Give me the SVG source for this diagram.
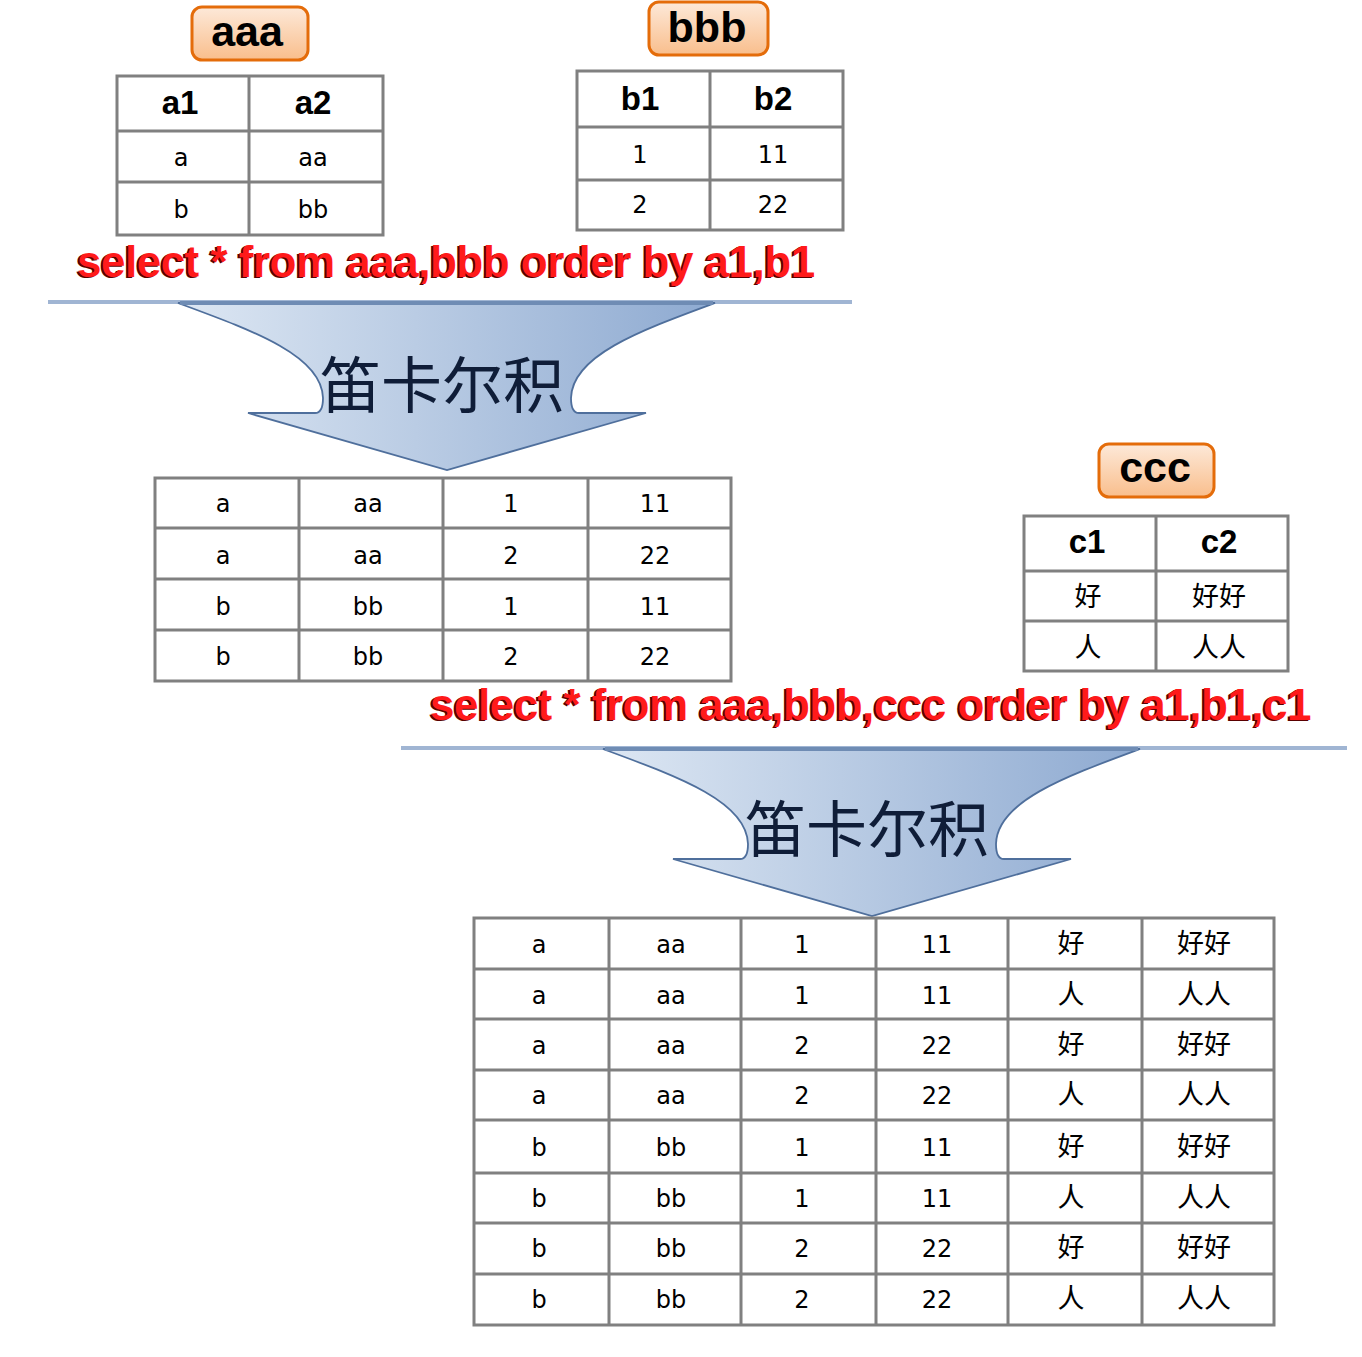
<svg xmlns="http://www.w3.org/2000/svg" width="1362" height="1357" viewBox="0 0 1362 1357">
  <defs>
    <linearGradient id="lblGrad" x1="0" y1="0" x2="0" y2="1">
      <stop offset="0" stop-color="#fde9d9"/>
      <stop offset="1" stop-color="#f9be8c"/>
    </linearGradient>
    <linearGradient id="arrGrad" x1="0" y1="0" x2="1" y2="0">
      <stop offset="0" stop-color="#dde7f3"/>
      <stop offset="1" stop-color="#8eaad1"/>
    </linearGradient>
    <path id="arrowShape" d="M178,303 L715,303 C642,330 572,355 571,398 Q571,413 579,413 L646,413 L447,470 L248,413 L315,413 Q323,413 323,398 C322,355 251,330 178,303 Z"/>
  </defs>
  <style>
    .lbl rect { fill: url(#lblGrad); stroke: #e46c0a; stroke-width: 3; }
    .lbl text { font-family: "Liberation Sans", Arial, sans-serif; font-weight: bold; font-size: 43px; fill: #000; text-anchor: middle; }
    .grid { fill: none; stroke: #808080; stroke-width: 3; }
    .hd { font-family: "Liberation Sans", Arial, sans-serif; font-weight: bold; font-size: 33px; fill: #000; text-anchor: middle; }
    .cell { font-family: "DejaVu Sans", "Noto Sans CJK SC", sans-serif; font-size: 24px; fill: #000; text-anchor: middle; }
    .cjk { font-family: "Noto Sans CJK SC", sans-serif; font-size: 27px; }
    .sql { font-family: "Liberation Sans", Arial, sans-serif; font-weight: bold; font-size: 44px; letter-spacing: -0.5px; }
    .sqlShadow { fill: #5a0000; }
    .sqlText { fill: #ff1a1a; }
    .arrow { fill: url(#arrGrad); stroke: #4f6f9c; stroke-width: 1.8; }
    .arrTxt { font-family: "Noto Sans CJK SC", sans-serif; font-size: 61px; fill: #0f1d38; text-anchor: middle; }
    .baseLine { stroke: #a0b5d3; stroke-width: 4; }
    .topLine { stroke: #6f8cb4; stroke-width: 4; }
  </style>
  <rect width="1362" height="1357" fill="#ffffff"/>

  <!-- connectors (cartesian-product arrows) -->
  <g id="connectors">
    <g id="arrow1">
      <line class="baseLine" x1="48" y1="302" x2="852" y2="302"/>
      <use href="#arrowShape" class="arrow"/>
      <line class="topLine" x1="180" y1="303" x2="713" y2="303"/>
      <text class="arrTxt" x="442" y="408">笛卡尔积</text>
    </g>
    <g id="arrow2" transform="translate(425,446)">
      <line class="baseLine" x1="-24" y1="302" x2="922" y2="302"/>
      <use href="#arrowShape" class="arrow"/>
      <line class="topLine" x1="180" y1="303" x2="713" y2="303"/>
      <text class="arrTxt" x="442" y="406">笛卡尔积</text>
    </g>
  </g>

  <!-- SQL captions -->
  <g id="sql1" class="sql">
    <text class="sqlShadow" x="75" y="278">select * from aaa,bbb order by a1,b1</text>
    <text class="sqlText" x="77" y="277">select * from aaa,bbb order by a1,b1</text>
  </g>
  <g id="sql2" class="sql">
    <text class="sqlShadow" x="428" y="721">select * from aaa,bbb,ccc order by a1,b1,c1</text>
    <text class="sqlText" x="430" y="720">select * from aaa,bbb,ccc order by a1,b1,c1</text>
  </g>

  <!-- table labels -->
  <g id="label-aaa" class="lbl">
    <rect x="192" y="7" width="116" height="53" rx="10"/>
    <text x="247" y="46">aaa</text>
  </g>
  <g id="label-bbb" class="lbl">
    <rect x="649" y="2" width="119" height="53" rx="10"/>
    <text x="707" y="42">bbb</text>
  </g>
  <g id="label-ccc" class="lbl">
    <rect x="1099" y="444" width="115" height="53" rx="10"/>
    <text x="1155" y="482">ccc</text>
  </g>

  <!-- table aaa -->
  <g id="table-aaa">
    <path class="grid" d="M117,76 H383 V235 H117 Z M249,76 V235 M117,131 H383 M117,182 H383"/>
    <text class="hd" x="180" y="114">a1</text>
    <text class="hd" x="313" y="114">a2</text>
    <text class="cell" x="181" y="166">a</text>
    <text class="cell" x="313" y="166">aa</text>
    <text class="cell" x="181" y="218">b</text>
    <text class="cell" x="313" y="218">bb</text>
  </g>

  <!-- table bbb -->
  <g id="table-bbb">
    <path class="grid" d="M577,71 H843 V230 H577 Z M710,71 V230 M577,127 H843 M577,180 H843"/>
    <text class="hd" x="640" y="110">b1</text>
    <text class="hd" x="773" y="110">b2</text>
    <text class="cell" x="640" y="163">1</text>
    <text class="cell" x="773" y="163">11</text>
    <text class="cell" x="640" y="213">2</text>
    <text class="cell" x="773" y="213">22</text>
  </g>

  <!-- table ccc -->
  <g id="table-ccc">
    <path class="grid" d="M1024,516 H1288 V671 H1024 Z M1156,516 V671 M1024,571 H1288 M1024,621 H1288"/>
    <text class="hd" x="1087" y="553">c1</text>
    <text class="hd" x="1219" y="553">c2</text>
    <text class="cell cjk" x="1088" y="606">好</text>
    <text class="cell cjk" x="1219" y="606">好好</text>
    <text class="cell cjk" x="1088" y="657">人</text>
    <text class="cell cjk" x="1219" y="657">人人</text>
  </g>

  <!-- result table aaa x bbb -->
  <g id="table-ab">
    <path class="grid" d="M155,478 H731 V681 H155 Z M299,478 V681 M443,478 V681 M588,478 V681 M155,528 H731 M155,579 H731 M155,630 H731"/>
    <g>
      <text class="cell" x="223" y="512">a</text><text class="cell" x="368" y="512">aa</text><text class="cell" x="511" y="512">1</text><text class="cell" x="655" y="512">11</text>
      <text class="cell" x="223" y="564">a</text><text class="cell" x="368" y="564">aa</text><text class="cell" x="511" y="564">2</text><text class="cell" x="655" y="564">22</text>
      <text class="cell" x="223" y="615">b</text><text class="cell" x="368" y="615">bb</text><text class="cell" x="511" y="615">1</text><text class="cell" x="655" y="615">11</text>
      <text class="cell" x="223" y="665">b</text><text class="cell" x="368" y="665">bb</text><text class="cell" x="511" y="665">2</text><text class="cell" x="655" y="665">22</text>
    </g>
  </g>

  <!-- result table aaa x bbb x ccc -->
  <g id="table-abc">
    <path class="grid" d="M474,918 H1274 V1325 H474 Z M609,918 V1325 M741,918 V1325 M876,918 V1325 M1008,918 V1325 M1142,918 V1325 M474,969 H1274 M474,1019 H1274 M474,1070 H1274 M474,1120 H1274 M474,1173 H1274 M474,1223 H1274 M474,1274 H1274"/>
    <g>
      <text class="cell" x="539" y="953">a</text><text class="cell" x="671" y="953">aa</text><text class="cell" x="802" y="953">1</text><text class="cell" x="937" y="953">11</text><text class="cell cjk" x="1071" y="953">好</text><text class="cell cjk" x="1204" y="953">好好</text>
      <text class="cell" x="539" y="1004">a</text><text class="cell" x="671" y="1004">aa</text><text class="cell" x="802" y="1004">1</text><text class="cell" x="937" y="1004">11</text><text class="cell cjk" x="1071" y="1004">人</text><text class="cell cjk" x="1204" y="1004">人人</text>
      <text class="cell" x="539" y="1054">a</text><text class="cell" x="671" y="1054">aa</text><text class="cell" x="802" y="1054">2</text><text class="cell" x="937" y="1054">22</text><text class="cell cjk" x="1071" y="1054">好</text><text class="cell cjk" x="1204" y="1054">好好</text>
      <text class="cell" x="539" y="1104">a</text><text class="cell" x="671" y="1104">aa</text><text class="cell" x="802" y="1104">2</text><text class="cell" x="937" y="1104">22</text><text class="cell cjk" x="1071" y="1104">人</text><text class="cell cjk" x="1204" y="1104">人人</text>
      <text class="cell" x="539" y="1156">b</text><text class="cell" x="671" y="1156">bb</text><text class="cell" x="802" y="1156">1</text><text class="cell" x="937" y="1156">11</text><text class="cell cjk" x="1071" y="1156">好</text><text class="cell cjk" x="1204" y="1156">好好</text>
      <text class="cell" x="539" y="1207">b</text><text class="cell" x="671" y="1207">bb</text><text class="cell" x="802" y="1207">1</text><text class="cell" x="937" y="1207">11</text><text class="cell cjk" x="1071" y="1207">人</text><text class="cell cjk" x="1204" y="1207">人人</text>
      <text class="cell" x="539" y="1257">b</text><text class="cell" x="671" y="1257">bb</text><text class="cell" x="802" y="1257">2</text><text class="cell" x="937" y="1257">22</text><text class="cell cjk" x="1071" y="1257">好</text><text class="cell cjk" x="1204" y="1257">好好</text>
      <text class="cell" x="539" y="1308">b</text><text class="cell" x="671" y="1308">bb</text><text class="cell" x="802" y="1308">2</text><text class="cell" x="937" y="1308">22</text><text class="cell cjk" x="1071" y="1308">人</text><text class="cell cjk" x="1204" y="1308">人人</text>
    </g>
  </g>
</svg>
